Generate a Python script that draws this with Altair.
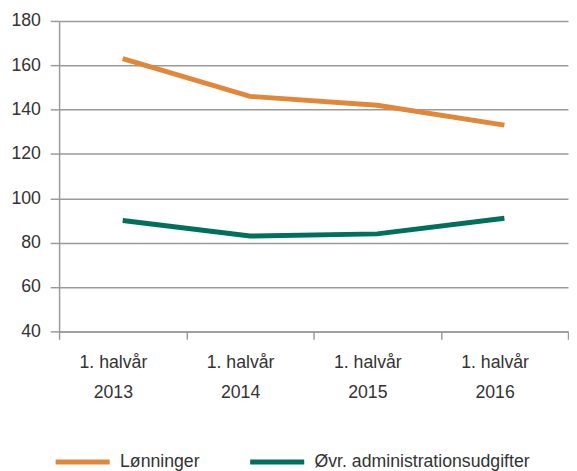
import altair as alt
import pandas as pd

periods = ["1. halvår|2013", "1. halvår|2014", "1. halvår|2015", "1. halvår|2016"]
series_names = ["Lønninger", "Øvr. administrationsudgifter"]
loenninger = [163, 146, 142, 133]
oevr = [90, 83, 84, 91]
y_ticks = [40, 60, 80, 100, 120, 140, 160, 180]
colors = ["#E0873A", "#00705C"]

rows = []
for p, v in zip(periods, loenninger):
    rows.append({"period": p, "series": series_names[0], "value": v})
for p, v in zip(periods, oevr):
    rows.append({"period": p, "series": series_names[1], "value": v})
df = pd.DataFrame(rows)

FONT = "Liberation Sans"
TXT = "#333333"
GRID = "#9a9a9a"
FS = 18

chart = alt.Chart(df).mark_line(strokeWidth=5, strokeCap="butt").encode(
    x=alt.X(
        "period:N",
        sort=periods,
        scale=alt.Scale(type="band", paddingInner=0, paddingOuter=0),
        axis=alt.Axis(
            title=None,
            labelAngle=0,
            labelExpr="split(datum.label, '|')",
            labelLineHeight=30,
            labelPadding=15,
            labelOffset=-10,
            labelFont=FONT,
            labelFontSize=FS,
            labelColor=TXT,
            tickBand="extent",
            tickSize=8,
            tickColor=GRID,
            tickWidth=1.5,
            domainColor=GRID,
            domainWidth=1.5,
            grid=False,
        ),
    ),
    y=alt.Y(
        "value:Q",
        scale=alt.Scale(domain=[40, 180], nice=False, zero=False),
        axis=alt.Axis(
            title=None,
            values=y_ticks,
            labelFont=FONT,
            labelFontSize=FS,
            labelColor=TXT,
            labelPadding=10,
            tickSize=9,
            tickColor=GRID,
            tickWidth=1.5,
            domainColor=GRID,
            domainWidth=1.5,
            grid=True,
            gridColor=GRID,
            gridWidth=1.5,
        ),
    ),
    color=alt.Color(
        "series:N",
        scale=alt.Scale(domain=series_names, range=colors),
        legend=alt.Legend(
            title=None,
            orient="none",
            legendX=-6,
            legendY=419,
            direction="horizontal",
            symbolType="stroke",
            symbolSize=3025,
            symbolStrokeWidth=5,
            labelFont=FONT,
            labelFontSize=FS,
            labelColor=TXT,
            labelOffset=8,
            labelLimit=400,
            columnPadding=40,
        ),
    ),
).properties(
    width=518,
    height=316,
    padding={"left": 2, "top": 0, "right": 0, "bottom": 0},
).configure_view(stroke=None)

chart.save("out.html", embed_options={"renderer": "svg", "actions": False})
